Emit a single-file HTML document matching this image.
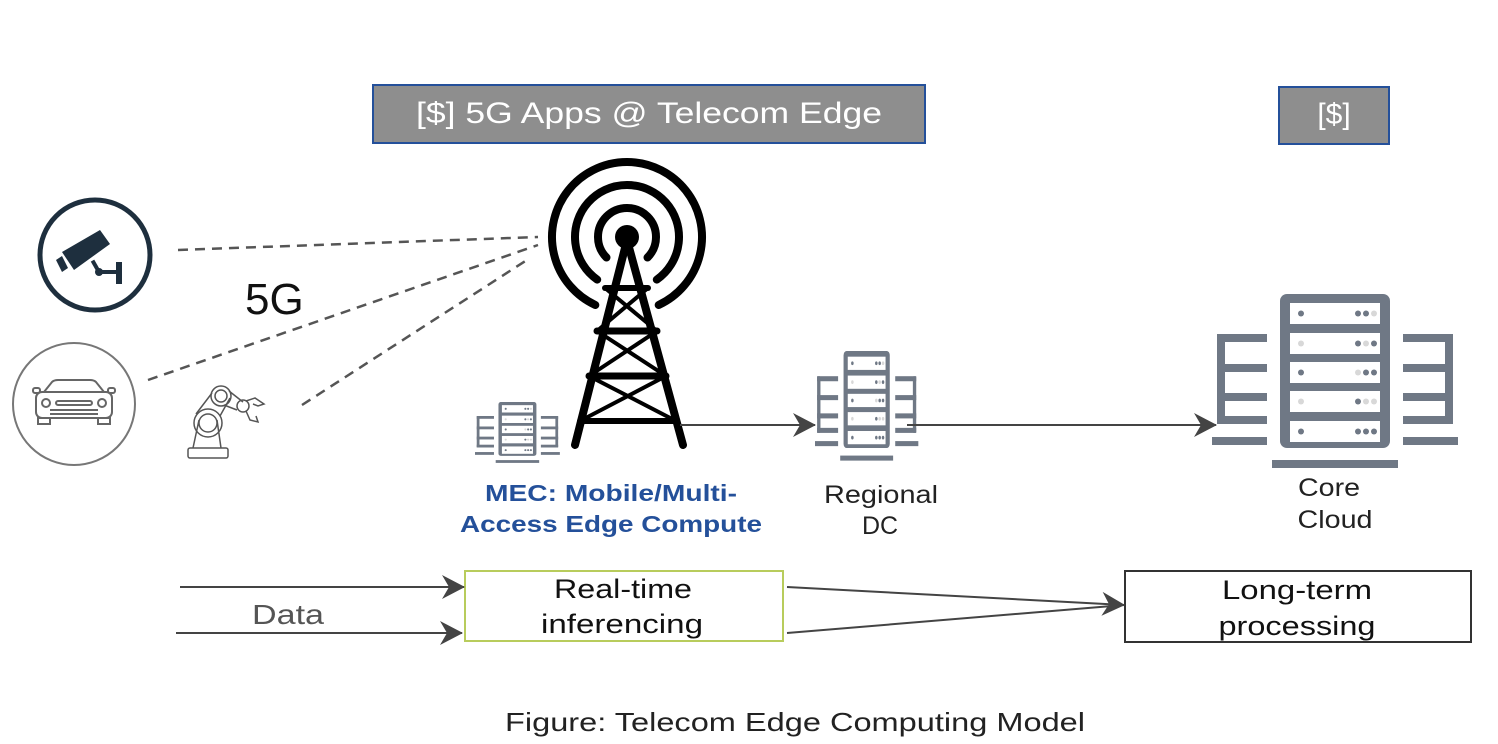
<!DOCTYPE html>
<html><head><meta charset="utf-8"><style>
html,body{margin:0;padding:0;background:#fff;}
svg{display:block;}
text{font-family:"Liberation Sans",sans-serif;}
</style></head><body>
<svg width="1498" height="744" viewBox="0 0 1498 744" xmlns="http://www.w3.org/2000/svg">
<defs>
  <g id="srv">
    <rect x="68" y="0" width="110" height="154" rx="7" fill="#6f7885"/>
    <g fill="#fff">
      <rect x="78" y="9" width="90" height="21"/>
      <rect x="78" y="39" width="90" height="21"/>
      <rect x="78" y="68" width="90" height="21"/>
      <rect x="78" y="97" width="90" height="21"/>
      <rect x="78" y="127" width="90" height="21"/>
    </g>
    <g fill="#6f7885">
      <circle cx="89" cy="19.5" r="3"/><circle cx="146" cy="19.5" r="3"/><circle cx="154" cy="19.5" r="3"/>
      <circle cx="146" cy="49.5" r="3"/><circle cx="162" cy="49.5" r="3"/>
      <circle cx="89" cy="78.5" r="3"/><circle cx="154" cy="78.5" r="3"/><circle cx="162" cy="78.5" r="3"/>
      <circle cx="146" cy="107.5" r="3"/>
      <circle cx="89" cy="137.5" r="3"/><circle cx="146" cy="137.5" r="3"/><circle cx="154" cy="137.5" r="3"/><circle cx="162" cy="137.5" r="3"/>
    </g>
    <g fill="#d8d8d8">
      <circle cx="162" cy="19.5" r="3"/><circle cx="89" cy="49.5" r="3"/><circle cx="154" cy="49.5" r="3"/>
      <circle cx="146" cy="78.5" r="3"/><circle cx="89" cy="107.5" r="3"/><circle cx="154" cy="107.5" r="3"/><circle cx="162" cy="107.5" r="3"/>
    </g>
    <g fill="#6f7885">
      <rect x="5" y="40" width="50" height="8"/><rect x="5" y="40" width="8" height="90" rx="2"/>
      <rect x="5" y="70" width="50" height="8"/><rect x="5" y="99" width="50" height="8"/><rect x="5" y="122" width="50" height="8"/>
      <rect x="0" y="143" width="55" height="8"/>
      <rect x="191" y="40" width="50" height="8"/><rect x="233" y="40" width="8" height="90" rx="2"/>
      <rect x="191" y="70" width="50" height="8"/><rect x="191" y="99" width="50" height="8"/><rect x="191" y="122" width="50" height="8"/>
      <rect x="191" y="143" width="55" height="8"/>
      <rect x="60" y="166" width="126" height="8"/>
    </g>
  </g>
  <marker id="ah2" markerWidth="26" markerHeight="26" refX="22" refY="13" orient="auto" markerUnits="userSpaceOnUse">
    <path d="M0,1 L23,13 L0,25 L7,13 Z" fill="#444"/>
  </marker>
</defs>

<rect x="373" y="85" width="552" height="58" fill="#8e8e8e" stroke="#24509a" stroke-width="2"/>
<text x="649" y="123" font-size="30" fill="#fff" text-anchor="middle" textLength="466" lengthAdjust="spacingAndGlyphs">[$] 5G Apps @ Telecom Edge</text>
<rect x="1279" y="87" width="110" height="57" fill="#8e8e8e" stroke="#24509a" stroke-width="2"/>
<text x="1334" y="124" font-size="30" fill="#fff" text-anchor="middle">[$]</text>

<circle cx="95" cy="255" r="55" fill="none" stroke="#1e2f3e" stroke-width="5"/>
<g fill="#1e2f3e">
  <path d="M62,252 L100,230 L110,244 L74,270 Z"/>
  <path d="M56,260 L62,256 L68,268 L62,272 Z"/>
  <rect x="93" y="260" width="4" height="10" transform="rotate(-30 95 265)"/>
  <circle cx="99" cy="272" r="4"/>
  <rect x="99" y="270" width="20" height="4"/>
  <rect x="116" y="262" width="6" height="22"/>
</g>

<circle cx="74" cy="404" r="61" fill="none" stroke="#777" stroke-width="2"/>
<g fill="none" stroke="#666" stroke-width="2">
  <path d="M44,392 L52,382 Q54,380 58,380 L90,380 Q94,380 96,382 L104,392"/>
  <rect x="36" y="392" width="76" height="26" rx="6"/>
  <rect x="33" y="388" width="7" height="5" rx="2"/><rect x="108" y="388" width="7" height="5" rx="2"/>
  <circle cx="46" cy="403" r="4"/><circle cx="102" cy="403" r="4"/>
  <rect x="56" y="401" width="36" height="4" rx="2"/>
  <line x1="50" y1="410" x2="98" y2="410"/><line x1="50" y1="414" x2="98" y2="414"/>
  <rect x="38" y="418" width="12" height="6"/><rect x="98" y="418" width="12" height="6"/>
</g>

<g fill="none" stroke="#555" stroke-width="1.5">
  <rect x="188" y="448" width="40" height="10" rx="2"/>
  <path d="M193,448 L199,420 M221,448 L217,420"/>
  <circle cx="208" cy="423" r="14"/><circle cx="208" cy="423" r="9"/>
  <path d="M196,414 L212,393 M220,416 L230,398"/>
  <circle cx="221" cy="396" r="10"/><circle cx="221" cy="396" r="6"/>
  <path d="M229,391 L243,402 M224,405 L237,410"/>
  <circle cx="243" cy="406" r="6"/>
  <path d="M246,401 L255,398 L264,404 L258,406 L253,404 M246,411 L250,420 L258,422 L256,416"/>
</g>

<g stroke="#555" stroke-width="2.5" stroke-dasharray="10,7" fill="none">
  <line x1="178" y1="250" x2="538" y2="237"/>
  <line x1="148" y1="380" x2="538" y2="245"/>
  <line x1="302" y1="405" x2="530" y2="258"/>
</g>
<text x="245" y="314" font-size="44" fill="#111">5G</text>

<!-- tower -->
<g fill="none" stroke="#000" stroke-width="8" stroke-linecap="round">
  <path d="M606.5,257.5 A29,29 0 1 1 647.5,257.5"/>
  <path d="M597.2,279.6 A52,52 0 1 1 656.8,279.6"/>
  <path d="M595.3,305 A75,75 0 1 1 658.7,305"/>
</g>
<circle cx="627" cy="237" r="12" fill="#000"/>
<g stroke="#000" fill="none" stroke-linecap="round">
  <line x1="627" y1="240" x2="575" y2="445" stroke-width="8"/>
  <line x1="627" y1="240" x2="683" y2="445" stroke-width="8"/>
  <line x1="605" y1="288" x2="648" y2="288" stroke-width="6"/>
  <line x1="597" y1="331" x2="657" y2="331" stroke-width="7"/>
  <line x1="589" y1="376" x2="666" y2="376" stroke-width="7"/>
  <line x1="580" y1="421" x2="676" y2="421" stroke-width="6"/>
  <path d="M605,288 L657,331 M648,288 L597,331" stroke-width="4"/>
  <path d="M597,331 L666,376 M657,331 L589,376" stroke-width="4"/>
  <path d="M589,376 L676,421 M666,376 L580,421" stroke-width="4"/>
</g>

<use href="#srv" transform="translate(475,402) scale(0.345,0.35)"/>
<use href="#srv" transform="translate(815,351) scale(0.42,0.63)"/>
<use href="#srv" transform="translate(1212,294) scale(1,1)"/>

<line x1="680" y1="425" x2="815" y2="425" stroke="#444" stroke-width="2" marker-end="url(#ah2)"/>
<line x1="907" y1="425" x2="1216" y2="425" stroke="#444" stroke-width="2" marker-end="url(#ah2)"/>

<g font-weight="bold" fill="#24509a" font-size="23" text-anchor="middle">
  <text x="611" y="501" textLength="252" lengthAdjust="spacingAndGlyphs">MEC: Mobile/Multi-</text>
  <text x="611" y="532" textLength="302" lengthAdjust="spacingAndGlyphs">Access Edge Compute</text>
</g>
<g fill="#222" font-size="25" text-anchor="middle">
  <text x="881" y="503" textLength="114" lengthAdjust="spacingAndGlyphs">Regional</text>
  <text x="880" y="534">DC</text>
  <text x="1329" y="496" textLength="62" lengthAdjust="spacingAndGlyphs">Core</text>
  <text x="1335" y="528" textLength="75" lengthAdjust="spacingAndGlyphs">Cloud</text>
</g>

<rect x="465" y="571" width="318" height="70" fill="#fff" stroke="#b8cc5c" stroke-width="2"/>
<text x="623" y="598" font-size="27" fill="#111" text-anchor="middle" textLength="138" lengthAdjust="spacingAndGlyphs">Real-time</text>
<text x="622" y="633" font-size="27" fill="#111" text-anchor="middle" textLength="162" lengthAdjust="spacingAndGlyphs">inferencing</text>
<rect x="1125" y="571" width="346" height="71" fill="#fff" stroke="#333" stroke-width="2"/>
<text x="1297" y="599" font-size="27" fill="#111" text-anchor="middle" textLength="150" lengthAdjust="spacingAndGlyphs">Long-term</text>
<text x="1297" y="635" font-size="27" fill="#111" text-anchor="middle" textLength="157" lengthAdjust="spacingAndGlyphs">processing</text>

<line x1="180" y1="587" x2="464" y2="587" stroke="#444" stroke-width="2" marker-end="url(#ah2)"/>
<line x1="176" y1="633" x2="462" y2="633" stroke="#444" stroke-width="2" marker-end="url(#ah2)"/>
<text x="252" y="624" font-size="28" fill="#555" textLength="72" lengthAdjust="spacingAndGlyphs">Data</text>

<line x1="787" y1="587" x2="1124" y2="605" stroke="#444" stroke-width="2" marker-end="url(#ah2)"/>
<line x1="787" y1="633" x2="1124" y2="605" stroke="#444" stroke-width="2"/>

<text x="795" y="731" font-size="26" fill="#222" text-anchor="middle" textLength="580" lengthAdjust="spacingAndGlyphs">Figure: Telecom Edge Computing Model</text>
</svg>
</body></html>
